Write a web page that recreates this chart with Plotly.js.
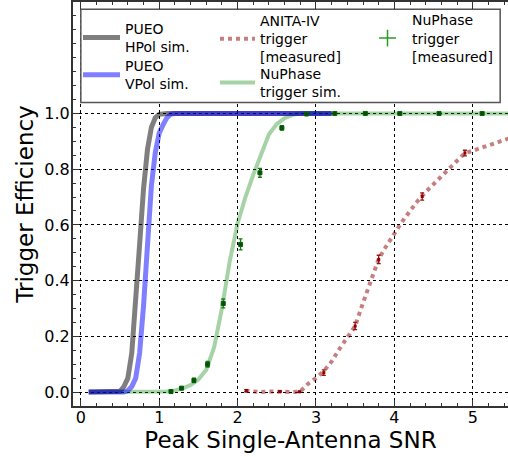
<!DOCTYPE html>
<html>
<head>
<meta charset="utf-8">
<script src="https://cdn.plot.ly/plotly-3.0.1.min.js"></script>
<style>html,body{margin:0;padding:0;background:#fff;}#chart{width:508px;height:457px;}</style>
</head>
<body>
<div id="chart"></div>
<script>
// PUEO simulated trigger efficiency
const pueoSnr = [0.1,0.2,0.3,0.4,0.45,0.5,0.55,0.6,0.65,0.7,0.75,0.8,0.85,0.9,0.95,1.0,1.05,1.1,1.15,1.2,1.5,2.0,2.5,3.0,3.2];
const pueoHpolEff = [0,0,0,0,0,0.003,0.02,0.05,0.14,0.31,0.53,0.73,0.87,0.95,0.985,0.997,1,1,1,1,1,1,1,1,1];
const pueoVpolEff = [0,0,0,0,0,0,0,0.005,0.02,0.05,0.14,0.31,0.55,0.74,0.86,0.93,0.96,0.985,0.998,1,1,1,1,1,1];

// NuPhase simulated trigger
const nuSimSnr = [0.1,0.5,1.0,1.1,1.2,1.3,1.4,1.5,1.6,1.7,1.8,1.9,2.0,2.1,2.2,2.3,2.4,2.5,2.6,2.7,2.8,3.0,4.0,5.0,5.5];
const nuSimEff = [0,0,0,0.002,0.006,0.013,0.025,0.045,0.08,0.16,0.30,0.47,0.605,0.70,0.78,0.855,0.925,0.962,0.983,0.995,1,1,1,1,1];

// NuPhase measured trigger
const nuMeasSnr = [1.15,1.285,1.443,1.617,1.817,2.038,2.285,2.565,2.88,3.24,3.63,4.07,4.57,5.12];
const nuMeasEff = [0.002,0.014,0.042,0.10,0.318,0.530,0.787,0.948,0.998,1,1,1,1,1];
const nuMeasErr = [0.003,0.005,0.008,0.01,0.016,0.02,0.016,0.008,0.003,0.002,0.002,0.002,0.002,0.002];

// ANITA-IV trigger (measured curve)
const anitaSnr = [2.1,2.2,2.3,2.4,2.5,2.6,2.7,2.8,2.9,3.0,3.1,3.2,3.3,3.4,3.5,3.6,3.7,3.8,3.9,4.0,4.1,4.2,4.3,4.4,4.5,4.6,4.7,4.8,4.9,5.0,5.1,5.2,5.3,5.4,5.5];
const anitaEff = [0.005,0.002,0.0,0.002,0.003,0.001,0.0,0.002,0.03,0.05,0.075,0.11,0.155,0.195,0.237,0.32,0.395,0.478,0.525,0.57,0.612,0.65,0.687,0.718,0.747,0.773,0.804,0.833,0.858,0.866,0.876,0.887,0.897,0.906,0.914];
const anitaMeasSnr = [2.11,2.54,2.79,3.10,3.50,3.80,4.355,4.90];
const anitaMeasEff = [0.005,0.002,0.001,0.07,0.237,0.476,0.702,0.858];
const anitaMeasErr = [0.004,0.002,0.002,0.01,0.013,0.015,0.013,0.01];

// tick labels
const yTickVals = [0,0.2,0.4,0.6,0.8,1.0];
const yTickText = ['0.0','0.2','0.4','0.6','0.8','1.0'];
const xTickVals = [0,1,2,3,4,5];
const xTickText = ['0','1','2','3','4','5'];

const FONT = 'DejaVu Sans, Liberation Sans, sans-serif';

const traces = [
  {type:'scatter', mode:'lines', x:nuSimSnr, y:nuSimEff, name:'NuPhase<br>trigger sim.',
   line:{color:'rgba(0,128,0,0.35)', width:4}, legend:'legend4'},
  {type:'scatter', mode:'lines', x:anitaSnr, y:anitaEff, name:'ANITA-IV<br>trigger<br>[measured]',
   line:{color:'rgba(139,0,0,0.5)', width:4, dash:'dot'}, legend:'legend3'},
  {type:'scatter', mode:'lines', x:pueoSnr, y:pueoHpolEff, name:'PUEO<br>HPol sim.',
   line:{color:'rgba(0,0,0,0.5)', width:5}, legend:'legend'},
  {type:'scatter', mode:'lines', x:pueoSnr, y:pueoVpolEff, name:'PUEO<br>VPol sim.',
   line:{color:'rgba(0,0,255,0.5)', width:5}, legend:'legend2'},
  {type:'scatter', mode:'markers', x:anitaMeasSnr, y:anitaMeasEff, showlegend:false,
   marker:{color:'#8b0000', size:3, symbol:'square'},
   error_y:{type:'data', array:anitaMeasErr, color:'#a01010', thickness:1.3, width:2}},
  {type:'scatter', mode:'markers', x:nuMeasSnr, y:nuMeasEff, showlegend:false,
   marker:{color:'#0a4a0a', size:4, symbol:'square', line:{color:'#006400', width:1}},
   error_y:{type:'data', array:nuMeasErr, color:'#1a7a1a', thickness:1.3, width:2}},
  {type:'scatter', mode:'markers', x:[null], y:[null], name:'NuPhase<br>trigger<br>[measured]',
   marker:{symbol:'cross-thin-open', size:12, color:'#2a9a2a', line:{color:'#2a9a2a', width:1.5}},
   legend:'legend5'}
];

const legendBase = {yanchor:'middle', xanchor:'left', bgcolor:'rgba(0,0,0,0)', borderwidth:0,
  font:{family:FONT, size:14, color:'#000'}, tracegroupgap:0, orientation:'v'};
function leg(x, y, iw) { return Object.assign({}, legendBase, {x:x, y:y, itemwidth:iw}); }

const layout = {
  width:508, height:457,
  margin:{l:73, r:0, t:2, b:51},
  paper_bgcolor:'#fff', plot_bgcolor:'#fff',
  font:{family:FONT, color:'#000'},
  showlegend:true,
  xaxis:{
    range:[-0.1,5.45], tickmode:'array', tickvals:xTickVals, ticktext:xTickText,
    ticks:'inside', ticklen:6, tickwidth:1, tickcolor:'#333',
    minor:{dtick:0.2, tick0:0, ticks:'inside', ticklen:3, tickcolor:'#333', showgrid:false},
    showline:true, linecolor:'#333', linewidth:2, mirror:'ticks',
    showgrid:true, gridcolor:'#000', griddash:'dot', gridwidth:1,
    zeroline:false, tickfont:{family:FONT, size:16, color:'#000'}, ticklabelstandoff:-4,
    title:{text:'Peak Single-Antenna SNR', font:{family:FONT, size:23, color:'#000'}, standoff:2},
    automargin:false
  },
  yaxis:{
    range:[-0.05,1.4], tickmode:'array', tickvals:yTickVals, ticktext:yTickText,
    ticks:'inside', ticklen:6, tickwidth:1, tickcolor:'#333',
    minor:{dtick:0.05, tick0:0, ticks:'inside', ticklen:3, tickcolor:'#333', showgrid:false},
    showline:true, linecolor:'#333', linewidth:2, mirror:false,
    showgrid:true, gridcolor:'#000', griddash:'dot', gridwidth:1,
    zeroline:false, tickfont:{family:FONT, size:16, color:'#000'}, ticklabelstandoff:-2,
    title:{text:'Trigger Efficiency', font:{family:FONT, size:23, color:'#000'}, standoff:4},
    automargin:false
  },
  legend: leg(0.0115, 0.9116, 37),
  legend2: leg(0.0115, 0.8193, 37),
  legend3: leg(0.3264, 0.9084, 35),
  legend4: leg(0.3264, 0.8002, 35),
  legend5: leg(0.6667, 0.9101, 39),
  shapes:[{type:'rect', xref:'paper', yref:'paper', x0:0.018, x1:0.982, y0:0.751, y1:0.982,
    fillcolor:'#fff', line:{color:'#555', width:1.5}, layer:'above'}]
};

Plotly.newPlot('chart', traces, layout, {displayModeBar:false, staticPlot:true});
</script>
</body>
</html>
